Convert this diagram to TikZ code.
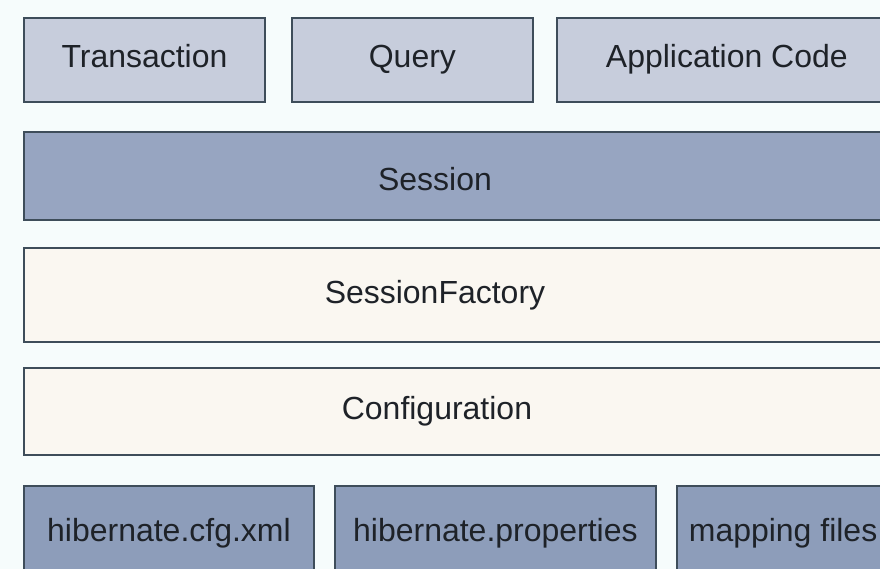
\documentclass[tikz,border=0pt]{standalone}
\usepackage{fontspec}
\setmainfont{Liberation Sans}
\usepackage{xcolor}
\usepackage{tikz}
\usetikzlibrary{positioning}

\definecolor{fondpage}{HTML}{F6FCFC}
\definecolor{bordure}{HTML}{3E4D5A}
\definecolor{hautfond}{HTML}{C7CDDC}
\definecolor{sessfond}{HTML}{97A5C1}
\definecolor{creme}{HTML}{FAF7F1}
\definecolor{basfond}{HTML}{8D9DBA}
\definecolor{encre}{HTML}{1E2228}

\begin{document}
\begin{tikzpicture}[node distance=0.56cm, auto, >=latex,
	boite/.style={rectangle, draw=bordure, line width=1.1pt, inner sep=0pt, text=encre, text height=0.46cm, text depth=0.14cm, font=\fontsize{18.2}{22}\selectfont},
	texte/.style={inner sep=0pt, text=encre, font=\fontsize{18.2}{22}\selectfont}]
		\useasboundingbox (0,0) rectangle (17.6,-11.38);
		\clip (0,0) rectangle (17.6,-11.38);
		\fill[fondpage] (0,0) rectangle (17.6,-11.38);
		
		% --- Rangée du HAUT ---
		\node[boite, fill=hautfond, minimum width=4.82cm, minimum height=1.68cm, anchor=north west] (transaction) at (0.46,-0.34) {Transaction};
		\node[boite, fill=hautfond, minimum width=4.82cm, minimum height=1.68cm, right=0.50cm of transaction] (query) {Query};
		\node[boite, fill=hautfond, minimum width=6.8cm, minimum height=1.68cm, right=0.44cm of query] (app_code) {Application Code};
		
		% --- Couches larges ---
		\node[boite, fill=sessfond, minimum width=17.48cm, minimum height=1.76cm, below=0.56cm of transaction.south west, anchor=north west] (session) {};
		\node[boite, fill=creme, minimum width=17.48cm, minimum height=1.88cm, below=0.52cm of session.south west, anchor=north west] (factory) {};
		\node[boite, fill=creme, minimum width=17.48cm, minimum height=1.74cm, below=0.48cm of factory.south west, anchor=north west] (config) {};
		
		% --- Textes des couches (décalés vers la gauche) ---
		\node[texte] (session_txt) at ([xshift=-0.52cm, yshift=-0.06cm]session.center) {Session};
		\node[texte] (factory_txt) at ([xshift=-0.52cm]factory.center) {SessionFactory};
		\node[texte] (config_txt) at ([xshift=-0.48cm]config.center) {Configuration};
		
		% --- Rangée du BAS ---
		\node[boite, fill=basfond, text depth=0cm, minimum width=5.8cm, minimum height=1.76cm, below=0.58cm of config.south west, anchor=north west] (hib_cfg) {hibernate.cfg.xml};
		\node[boite, fill=basfond, text depth=0cm, minimum width=6.42cm, minimum height=1.76cm, right=0.38cm of hib_cfg] (hib_props) {hibernate.properties};
		\node[boite, fill=basfond, text depth=0cm, minimum width=4.25cm, minimum height=1.76cm, right=0.38cm of hib_props] (mapping) {mapping files};
		
	\end{tikzpicture}
\end{document}
